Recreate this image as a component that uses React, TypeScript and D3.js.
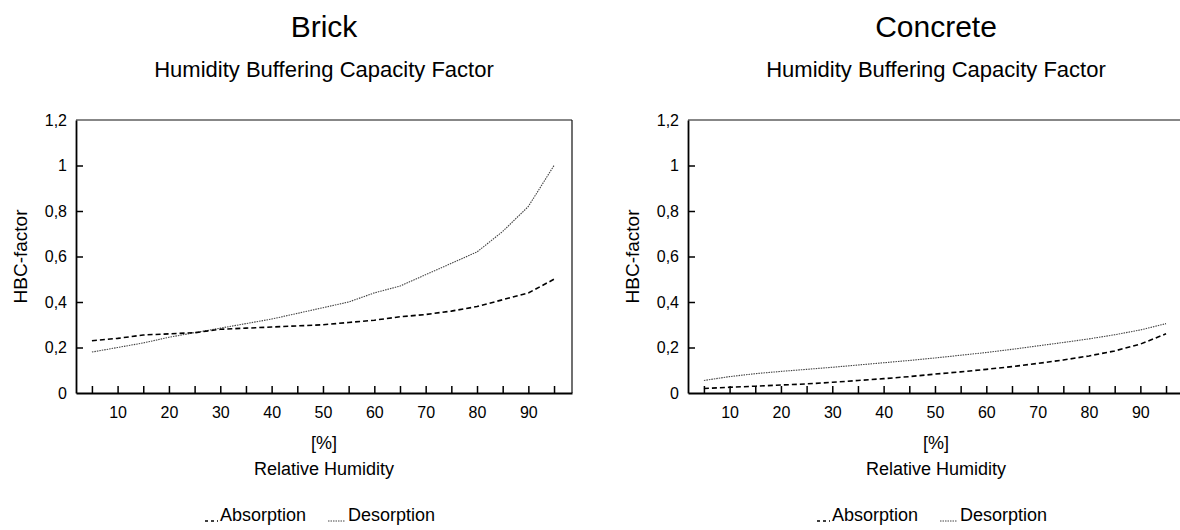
import * as d3 from 'd3'
import { FC, useRef, useEffect } from 'react'

type Point = { rh: number, value: number }

const humidity = [5, 10, 15, 20, 25, 30, 35, 40, 45, 50, 55, 60, 65, 70, 75, 80, 85, 90, 95]

const brickAbsorption = [0.23, 0.24, 0.255, 0.26, 0.265, 0.28, 0.285, 0.29, 0.295, 0.3, 0.31, 0.32, 0.335, 0.345, 0.36, 0.38, 0.41, 0.44, 0.5]
const brickDesorption = [0.18, 0.2, 0.22, 0.245, 0.265, 0.285, 0.305, 0.325, 0.35, 0.375, 0.4, 0.44, 0.47, 0.52, 0.57, 0.62, 0.71, 0.82, 1.0]

const concreteAbsorption = [0.02, 0.025, 0.03, 0.035, 0.04, 0.047, 0.055, 0.063, 0.072, 0.083, 0.093, 0.104, 0.116, 0.13, 0.145, 0.163, 0.185, 0.215, 0.26]
const concreteDesorption = [0.055, 0.072, 0.085, 0.095, 0.104, 0.113, 0.123, 0.133, 0.143, 0.154, 0.166, 0.178, 0.192, 0.207, 0.222, 0.238, 0.256, 0.277, 0.305]

const yTicks = [0, 0.2, 0.4, 0.6, 0.8, 1, 1.2]
const xTicks = [5, 10, 15, 20, 25, 30, 35, 40, 45, 50, 55, 60, 65, 70, 75, 80, 85, 90, 95]

const FONT = '"Liberation Sans", Arial, sans-serif'

const toPoints = (vals: number[]): Point[] => vals.map((value, i) => ({ rh: humidity[i], value }))

type PanelProps = {
    offset: number,
    title: string,
    absorption: number[],
    desorption: number[],
}

const Panel: FC<PanelProps> = ({ offset, title, absorption, desorption }) => {
    const gRef = useRef<SVGGElement>(null)

    const x = d3.scaleLinear().domain([1.9, 98.5]).range([76, 572])
    const y = d3.scaleLinear().domain([0, 1.2]).range([393, 120])

    useEffect(() => {
        const g = d3.select(gRef.current)
        g.selectAll('*').remove()

        // frame (top + right)
        g.append('line')
            .attr('x1', x(1.9)).attr('x2', x(98.5))
            .attr('y1', y(1.2)).attr('y2', y(1.2))
            .attr('stroke', '#111').attr('stroke-width', 1.2)
        g.append('line')
            .attr('x1', x(98.5)).attr('x2', x(98.5))
            .attr('y1', y(1.2)).attr('y2', y(0))
            .attr('stroke', '#111').attr('stroke-width', 1.2)

        // x axis, ticks pointing inward
        const xAxis = d3.axisBottom(x)
            .tickValues(xTicks)
            .tickSizeInner(-7)
            .tickSizeOuter(0)
            .tickPadding(14)
            .tickFormat((d: any) => (d % 10 === 0 ? String(d) : ''))
        const gx = g.append('g')
            .attr('transform', `translate(0,${y(0)})`)
            .call(xAxis)
        gx.select('.domain').attr('stroke', '#000').attr('stroke-width', 1.8)
        gx.selectAll('.tick line').attr('stroke', '#000').attr('stroke-width', 1.5)
        gx.selectAll('text').attr('font-family', FONT).attr('font-size', 16).attr('fill', '#000')

        // y axis
        const yAxis = d3.axisLeft(y)
            .tickValues(yTicks)
            .tickSizeInner(-7)
            .tickSizeOuter(0)
            .tickPadding(9)
            .tickFormat((d: any) => String(d).replace('.', ','))
        const gy = g.append('g')
            .attr('transform', `translate(${x(1.9)},0)`)
            .call(yAxis)
        gy.select('.domain').attr('stroke', '#000').attr('stroke-width', 1.8)
        gy.selectAll('.tick line')
            .attr('stroke', '#000').attr('stroke-width', 1.5)
            .attr('display', (d: any) => (d === 0 || d === 1.2 ? 'none' : null))
        gy.selectAll('text').attr('font-family', FONT).attr('font-size', 16).attr('fill', '#000')

        const line = d3.line<Point>()
            .x(d => x(d.rh))
            .y(d => y(d.value))

        g.append('path')
            .datum(toPoints(desorption))
            .attr('d', line)
            .attr('fill', 'none')
            .attr('stroke', '#444')
            .attr('stroke-width', 1.1)
            .attr('stroke-dasharray', '1.5,1')

        g.append('path')
            .datum(toPoints(absorption))
            .attr('d', line)
            .attr('fill', 'none')
            .attr('stroke', '#000')
            .attr('stroke-width', 1.6)
            .attr('stroke-dasharray', '5,3')
    }, [absorption, desorption])

    const cx = (x(1.9) + x(98.5)) / 2
    const cy = (y(0) + y(1.2)) / 2

    return (
        <g transform={`translate(${offset},0)`} fontFamily={FONT} fill="#000">
            <text x={cx} y={26} textAnchor="middle" dominantBaseline="central" fontSize={30}>{title}</text>
            <text x={cx} y={69} textAnchor="middle" dominantBaseline="central" fontSize={22}>Humidity Buffering Capacity Factor</text>
            <text transform={`translate(20,${cy}) rotate(-90)`} textAnchor="middle" dominantBaseline="central" fontSize={19}>HBC-factor</text>
            <g ref={gRef} />
            <text x={cx} y={443} textAnchor="middle" dominantBaseline="central" fontSize={18}>[%]</text>
            <text x={cx} y={469} textAnchor="middle" dominantBaseline="central" fontSize={18}>Relative Humidity</text>
            <line x1={205} x2={218} y1={521} y2={521} stroke="#000" strokeWidth={1.3} strokeDasharray="3,3" />
            <text x={220} y={515} dominantBaseline="central" fontSize={18}>Absorption</text>
            <line x1={328} x2={345} y1={521} y2={521} stroke="#444" strokeWidth={1} strokeDasharray="1.5,1" />
            <text x={348} y={515} dominantBaseline="central" fontSize={18}>Desorption</text>
        </g>
    )
}

export default function App() {
    return (
        <svg
            width={1180}
            height={530}
            style={{ position: 'absolute', left: 0, top: 0, background: '#fff' }}
        >
            <Panel offset={0} title="Brick" absorption={brickAbsorption} desorption={brickDesorption} />
            <Panel offset={612} title="Concrete" absorption={concreteAbsorption} desorption={concreteDesorption} />
        </svg>
    )
}
